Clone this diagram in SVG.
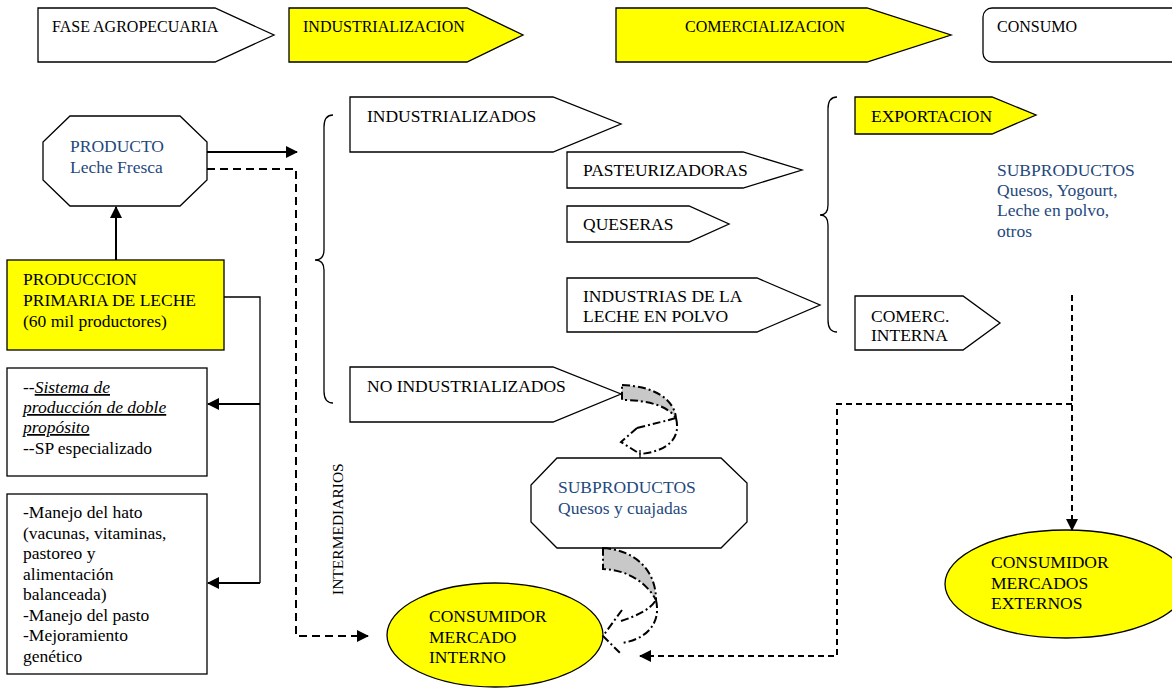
<svg xmlns="http://www.w3.org/2000/svg" width="1172" height="689" viewBox="0 0 1172 689" font-family="'Liberation Serif', 'Times New Roman', serif">
<defs>
<style>
text{font-family:'Liberation Serif','Times New Roman',serif;font-size:17.5px;fill:#000}
.ban{font-size:16px}
.blue{fill:#1F497D}
.shape{stroke:#000;stroke-width:1.3;fill:#fff}
.yel{fill:#ffff00}
.ln{fill:none;stroke:#000;stroke-width:2}
.thin{fill:none;stroke:#000;stroke-width:1.3}
.dash{fill:none;stroke:#000;stroke-width:2;stroke-dasharray:8 5}
.dash2{fill:none;stroke:#000;stroke-width:2;stroke-dasharray:6 4}
.dd{fill:none;stroke:#000;stroke-width:2;stroke-dasharray:8 3 2 3}
.band{fill:#c8c8c8;stroke:#000;stroke-width:2;stroke-dasharray:8 3 2 3}
.it{font-style:italic;text-decoration:underline}
</style>
<marker id="ah" markerWidth="12" markerHeight="12" refX="11" refY="6" orient="auto" markerUnits="userSpaceOnUse">
<path d="M0,0 L12,6 L0,12 Z" fill="#000"/>
</marker>
</defs>

<g id="fase"><polygon class="shape" points="38,8 215,8 274,35 215,62 38,62"/><text class="ban" x="52" y="32">FASE AGROPECUARIA</text></g>
<g id="industrializacion"><polygon class="shape yel" points="289,8 467,8 523,35 467,62 289,62"/><text class="ban" x="303" y="32">INDUSTRIALIZACION</text></g>
<g id="comercializacion"><polygon class="shape yel" points="616,8 867,8 951,35 867,62 616,62"/><text class="ban" x="685" y="32">COMERCIALIZACION</text></g>
<g id="consumo"><rect class="shape" x="983" y="8" width="200" height="54" rx="9"/><text class="ban" x="997" y="32">CONSUMO</text></g>

<g id="producto"><polygon class="shape" points="70,116 180,116 207,142 207,180 180,206 70,206 43,180 43,142"/><text class="blue" x="70" y="152">PRODUCTO</text><text class="blue" x="70" y="173">Leche Fresca</text></g>

<g id="produccion"><rect class="shape yel" x="7" y="260" width="217" height="90"/><text x="23" y="285">PRODUCCION</text><text x="23" y="306">PRIMARIA DE LECHE</text><text x="23" y="327">(60 mil productores)</text></g>

<g id="sistema"><rect class="shape" x="7" y="368" width="200" height="108"/>
<text x="23" y="393">--<tspan class="it">Sistema de</tspan></text>
<text x="23" y="413"><tspan class="it">producción de doble</tspan></text>
<text x="23" y="433"><tspan class="it">propósito</tspan></text>
<text x="23" y="454">--SP especializado</text></g>

<g id="manejo"><rect class="shape" x="7" y="494" width="200" height="180"/>
<text x="23" y="518">-Manejo del hato</text>
<text x="23" y="539">(vacunas, vitaminas,</text>
<text x="23" y="559">pastoreo y</text>
<text x="23" y="580">alimentación</text>
<text x="23" y="600">balanceada)</text>
<text x="23" y="621">-Manejo del pasto</text>
<text x="23" y="641">-Mejoramiento</text>
<text x="23" y="662">genético</text></g>

<g id="intermediarios"><text style="font-size:15.5px" transform="translate(343,595) rotate(-90)">INTERMEDIARIOS</text></g>

<g id="brace-left"><path class="thin" d="M333,115 Q324,115 324,127 L324,250 Q324,260 315,260 Q324,260 324,270 L324,391 Q324,403 333,403"/></g>

<g id="industrializados"><polygon class="shape" points="350,97 553,97 621,124 553,152 350,152"/><text x="367" y="122">INDUSTRIALIZADOS</text></g>
<g id="pasteurizadoras"><polygon class="shape" points="567,152 743,152 802,170 743,188 567,188"/><text x="583" y="176">PASTEURIZADORAS</text></g>
<g id="queseras"><polygon class="shape" points="567,206 689,206 729,224 689,242 567,242"/><text x="583" y="230">QUESERAS</text></g>
<g id="polvo"><polygon class="shape" points="567,278 757,278 820,305 757,332 567,332"/><text x="583" y="302">INDUSTRIAS DE LA</text><text x="583" y="322">LECHE EN POLVO</text></g>
<g id="no-industrializados"><polygon class="shape" points="350,367 553,367 621,394 553,422 350,422"/><text x="367" y="392">NO INDUSTRIALIZADOS</text></g>

<g id="brace-right"><path class="thin" d="M837,97 Q828,97 828,109 L828,205 Q828,215 820,215 Q828,215 828,225 L828,320 Q828,332 837,332"/></g>

<g id="exportacion"><polygon class="shape yel" points="855,97 992,97 1036,115 992,134 855,134"/><text x="871" y="122">EXPORTACION</text></g>
<g id="subproductos-ext"><text class="blue" x="997" y="176">SUBPRODUCTOS</text><text class="blue" x="997" y="196">Quesos, Yogourt,</text><text class="blue" x="997" y="216">Leche en polvo,</text><text class="blue" x="997" y="237">otros</text></g>
<g id="comerc-interna"><polygon class="shape" points="855,296 963,296 1000,323 963,350 855,350"/><text x="871" y="322">COMERC.</text><text x="871" y="341">INTERNA</text></g>

<g id="subproductos"><polygon class="shape" points="557,458 721,458 747,483 747,522 721,548 557,548 531,522 531,485"/><text class="blue" x="558" y="493">SUBPRODUCTOS</text><text class="blue" x="558" y="514">Quesos y cuajadas</text></g>

<g id="consumidor-interno"><ellipse class="shape yel" cx="495" cy="635" rx="108" ry="52"/><text x="429" y="622">CONSUMIDOR</text><text x="429" y="643">MERCADO</text><text x="429" y="663">INTERNO</text></g>

<g id="consumidor-externo"><ellipse class="shape yel" cx="1066" cy="584" rx="121" ry="54"/><text x="991" y="568">CONSUMIDOR</text><text x="991" y="589">MERCADOS</text><text x="991" y="609">EXTERNOS</text></g>

<g id="connectors">
<path class="ln" d="M207,152 L297,152" marker-end="url(#ah)"/>
<path class="ln" d="M116,260 L116,207" marker-end="url(#ah)"/>
<path class="thin" d="M224,297 L260,297 L260,583"/>
<path class="ln" d="M260,404 L208,404" marker-end="url(#ah)"/>
<path class="ln" d="M260,583 L208,583" marker-end="url(#ah)"/>
<path class="dash" d="M207,169 L296,169 L296,636 L368,636" marker-end="url(#ah)"/>
<path class="dash2" d="M1072,295 L1072,530" marker-end="url(#ah)"/>
<path class="dash2" d="M1072,404 L837,404 L837,656 L640,656" marker-end="url(#ah)"/>
<path class="band" d="M622,385 C652,386 674,398 676,418 C668,406 648,400 622,400 Z"/>
<path class="dd" d="M676,418 C682,442 662,452 640,454"/>
<path class="dd" d="M637,428 C652,424 666,421 676,418"/>
<path class="dd" d="M637,428 L621,442 L640,454"/>
<path class="thin" d="M640,450 L640,458"/>
<path class="band" d="M603,548 C635,550 656,570 656,600 C648,585 630,570 603,569 Z"/>
<path class="dd" d="M656,600 C662,627 642,640 622,643"/>
<path class="dd" d="M621,621 C636,616 650,610 656,600"/>
<path class="dd" d="M622,610 L603,636 L622,655"/>
</g>
</svg>
